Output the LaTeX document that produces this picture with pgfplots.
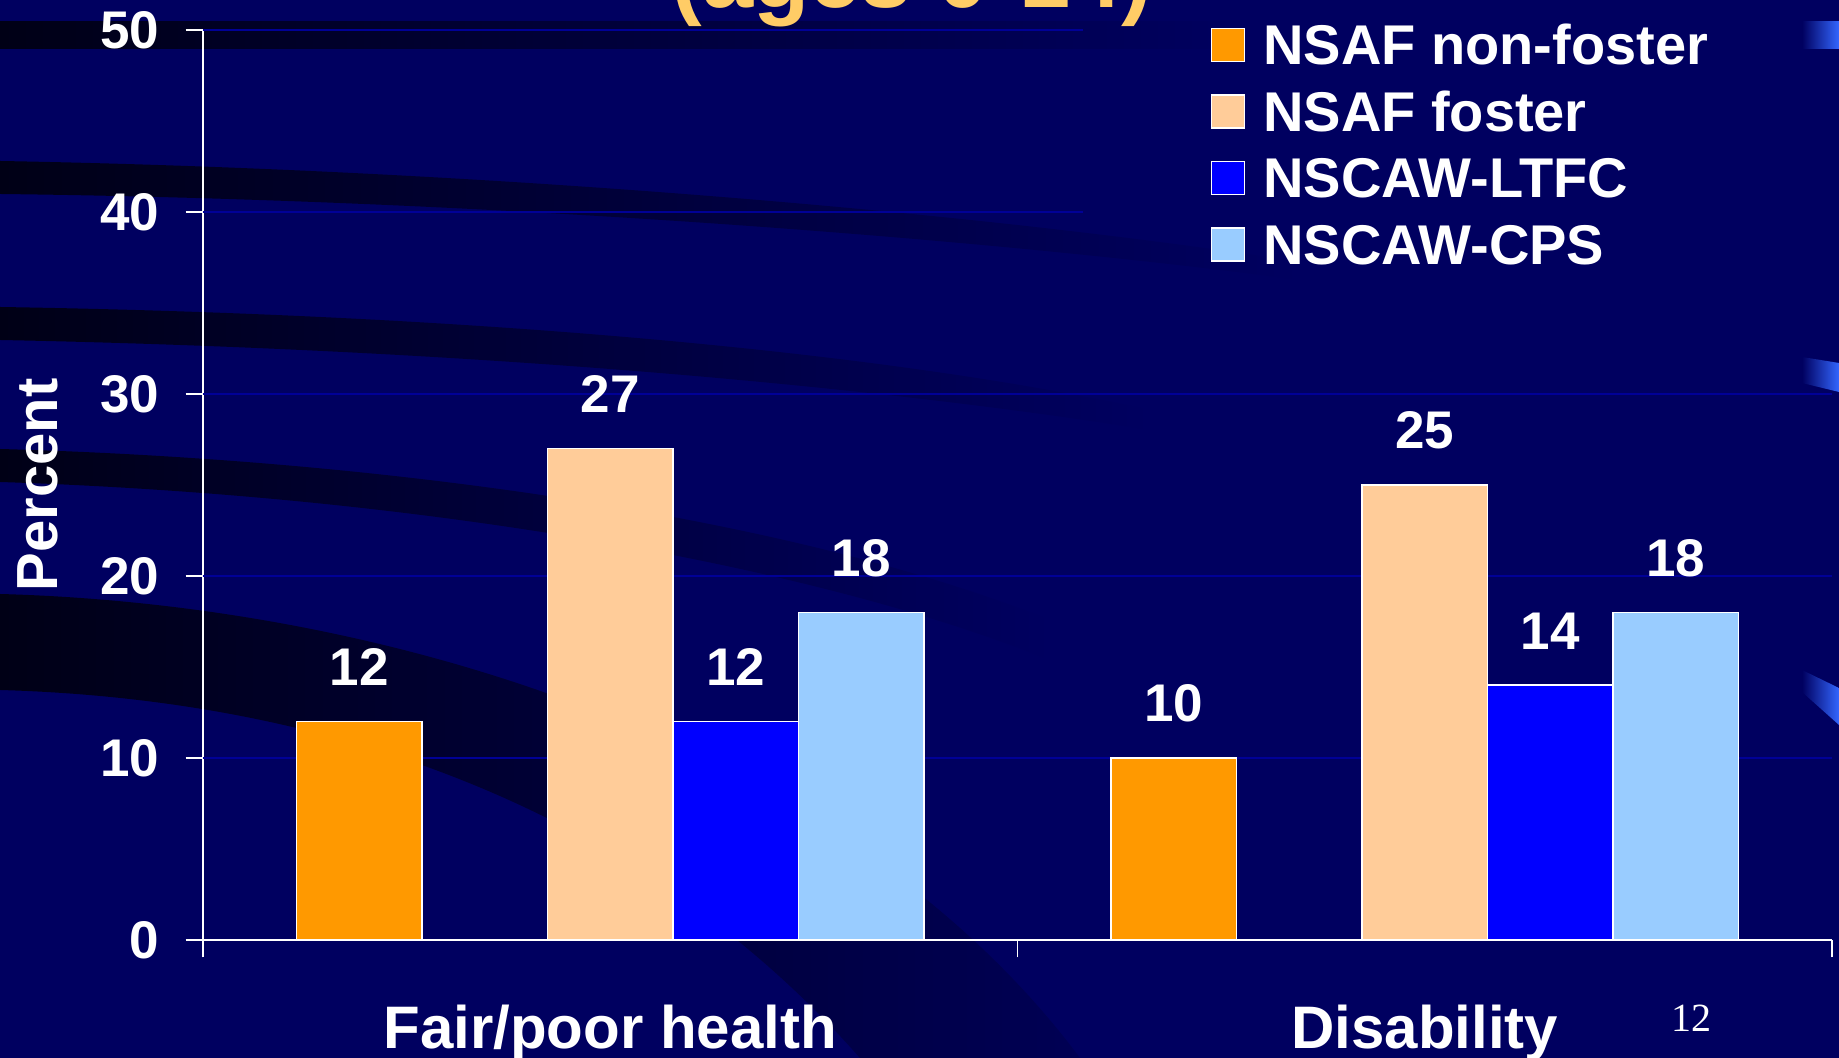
\documentclass[border=0pt]{standalone}
\usepackage{pgfplots}
\pgfplotsset{compat=1.18}
\usepackage{fontspec}
\setmainfont{Liberation Sans}
\newfontfamily\seriffont{Liberation Serif}
\definecolor{bg}{RGB}{0,0,96}
\definecolor{darkband}{RGB}{0,0,22}
\definecolor{midband}{RGB}{0,0,84}
\definecolor{gridc}{RGB}{0,0,150}
\definecolor{c1}{HTML}{FF9900}
\definecolor{c2}{HTML}{FFCC99}
\definecolor{c3}{HTML}{0000FF}
\definecolor{c4}{HTML}{99CCFF}
\definecolor{titlec}{HTML}{FFCC66}
\definecolor{sliver}{HTML}{3366FF}
\pgfplotsset{sq/.style={legend image code/.code={\draw[fill=#1, draw=white, line width=0.8pt] (0pt,-8.25pt) rectangle (16.5pt,8.25pt);}}}
\begin{document}
\begin{tikzpicture}
\useasboundingbox (0,0) rectangle (919.5pt,529pt);
\fill[bg] (0,0) rectangle (919.5pt,529pt);
\begin{scope}[shift={(0pt,529pt)},x=0.5pt,y=-0.5pt]
  % background swooshes
  \shade[left color=darkband, right color=bg] (0,22) rectangle (1250,49);
  \shade[left color=darkband, right color=bg] (0,161) .. controls (500,170) and (1000,215) .. (1300,262) -- (1300,280) .. controls (1000,240) and (500,200) .. (0,194) -- cycle;
  \shade[left color=darkband, right color=bg] (0,307) .. controls (500,315) and (900,355) .. (1150,410) -- (1150,430) .. controls (900,390) and (500,350) .. (0,340) -- cycle;
  \shade[left color=darkband, right color=bg] (0,449) .. controls (400,460) and (800,520) .. (1050,620) -- (1050,660) .. controls (800,560) and (400,495) .. (0,482) -- cycle;
  \shade[left color=darkband, right color=midband] (0,594) .. controls (400,605) and (850,750) .. (1080,1058) -- (860,1058) .. controls (650,820) and (350,700) .. (0,690) -- cycle;
  % right-edge slivers
  \shade[left color=bg, right color=sliver] (1802,22) -- (1839,22) -- (1839,49) -- (1802,49) -- cycle;
  \shade[left color=bg, right color=sliver] (1802,357) -- (1839,363) -- (1839,392) -- (1802,383) -- cycle;
  \shade[left color=bg, right color=sliver] (1802,670) -- (1839,688) -- (1839,725) -- (1802,692) -- cycle;
  % title remnant (cut off at top edge, as in the slide)
  \node[anchor=base, text=titlec, font=\fontsize{46}{46}\selectfont\bfseries, inner sep=0pt] at (912,8) {(ages 0-14)};
  % page number
  \node[anchor=base, text=white, font=\seriffont\fontsize{20}{20}\selectfont, inner sep=0pt] at (1691,1032) {12};
  % y label
  \node[rotate=90, anchor=center, text=white, font=\fontsize{29}{29}\selectfont\bfseries, inner sep=0pt] at (37.5,485) {Percent};
\end{scope}
\begin{axis}[
  at={(101.5pt,59pt)}, anchor=south west,
  scale only axis, width=814.5pt, height=455pt,
  xmin=0, xmax=2, ymin=0, ymax=50,
  axis lines*=left,
  axis line style={white, line width=0.8pt},
  every tick/.style={white, line width=0.8pt},
  tick align=outside, major tick length=8.75pt,
  xtick={0,1,2}, xticklabels={},
  ytick={0,10,20,30,40,50},
  /pgf/number format/assume math mode=true,
  yticklabel style={font=\fontsize{26.5}{26.5}\selectfont\bfseries, text=white, inner sep=0pt, anchor=east, xshift=-13pt},
  ybar, bar width=62.75pt,
  nodes near coords,
  nodes near coords style={font=\fontsize{26.5}{26.5}\selectfont\bfseries, text=white, anchor=south, inner sep=0pt, yshift=17.5pt},
  clip=false,
  legend cell align=left,
  legend style={at={(0.6183,1.006)}, anchor=north west, draw=none, fill=none, inner sep=0pt, text=white,
    font=\fontsize{28}{28}\selectfont\bfseries, row sep=13.25pt, column sep=9pt,
    nodes={inner sep=0pt, text height=20pt, text depth=0pt}},
]
\draw[gridc, line width=0.7pt] (axis cs:0,10) -- (axis cs:2,10);
\draw[gridc, line width=0.7pt] (axis cs:0,20) -- (axis cs:2,20);
\draw[gridc, line width=0.7pt] (axis cs:0,30) -- (axis cs:2,30);
\draw[gridc, line width=0.7pt] (axis cs:0,40) -- (axis cs:1.0805,40);
\draw[gridc, line width=0.7pt] (axis cs:0,50) -- (axis cs:1.0805,50);
\addplot[bar shift=-125.5pt, fill=c1, draw=white, line width=0.8pt, sq=c1] coordinates {(0.5,12) (1.5,10)};
\addlegendentry{NSAF non-foster}
\addplot[bar shift=0pt, fill=c2, draw=white, line width=0.8pt, sq=c2] coordinates {(0.5,27) (1.5,25)};
\addlegendentry{NSAF foster}
\addplot[bar shift=62.75pt, fill=c3, draw=white, line width=0.8pt, sq=c3] coordinates {(0.5,12) (1.5,14)};
\addlegendentry{NSCAW-LTFC}
\addplot[bar shift=125.5pt, fill=c4, draw=white, line width=0.8pt, sq=c4] coordinates {(0.5,18) (1.5,18)};
\addlegendentry{NSCAW-CPS}
\node[anchor=base, text=white, font=\fontsize{30}{30}\selectfont\bfseries, inner sep=0pt, yshift=-54.25pt] at (axis cs:0.5,0) {Fair/poor health};
\node[anchor=base, text=white, font=\fontsize{30}{30}\selectfont\bfseries, inner sep=0pt, yshift=-54.25pt] at (axis cs:1.5,0) {Disability};
\end{axis}
\end{tikzpicture}
\end{document}
